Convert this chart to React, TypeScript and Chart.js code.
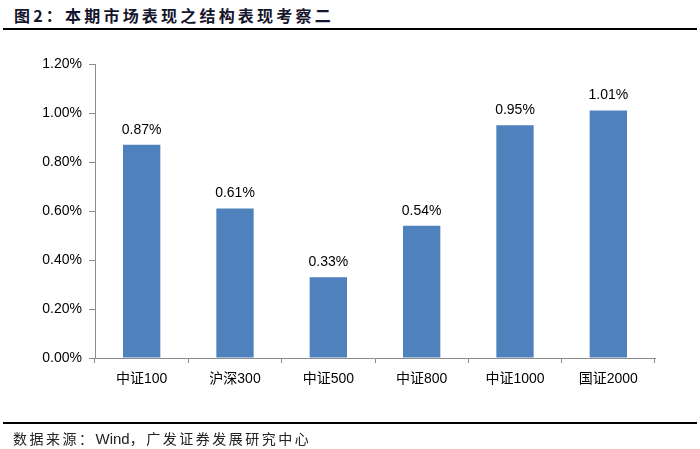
import React, { useEffect, useRef } from "react";
import { Chart, registerables } from "chart.js";

Chart.register(...registerables);

const categories = ["中证100", "沪深300", "中证500", "中证800", "中证1000", "国证2000"];
const values = [0.87, 0.61, 0.33, 0.54, 0.95, 1.01];
const yTicksMin = 0;
const yTicksMax = 1.2;
const yTicksStep = 0.2;
const titleText = "图2：本期市场表现之结构表现考察二";
const sourcePrefix = "数据来源：";
const sourceWind = "Wind";
const sourceSuffix = "，广发证券发展研究中心";

const FONT = "'Liberation Sans', Arial, 'Noto Sans CJK SC', sans-serif";

export default function App() {
  const ref = useRef<HTMLCanvasElement | null>(null);
  useEffect(() => {
    if (!ref.current) return;
    const labelPlugin = {
      id: "barLabels",
      afterDatasetsDraw(chart: any) {
        const ctx = chart.ctx;
        const meta = chart.getDatasetMeta(0);
        ctx.save();
        ctx.font = `14px ${FONT}`;
        ctx.fillStyle = "#000";
        ctx.textAlign = "center";
        ctx.textBaseline = "bottom";
        meta.data.forEach((el: any, i: number) => {
          ctx.fillText(values[i].toFixed(2) + "%", el.x, el.y - 8);
        });
        ctx.restore();
      },
    };
    const chart = new Chart(ref.current, {
      type: "bar",
      data: {
        labels: categories,
        datasets: [
          {
            data: values,
            backgroundColor: "#4F81BD",
            categoryPercentage: 1,
            barPercentage: 0.4,
          },
        ],
      },
      options: {
        animation: false,
        responsive: false,
        devicePixelRatio: 1,
        layout: { padding: { left: 0, right: 45, top: 64, bottom: 0 } },
        plugins: { legend: { display: false }, tooltip: { enabled: false }, title: { display: false } },
        scales: {
          x: {
            afterFit(scale: any) {
              scale.height = 91;
            },
            grid: {
              offset: true,
              drawOnChartArea: false,
              drawTicks: true,
              tickLength: 5,
              color: "#8c8c8c",
            },
            border: { display: true, color: "#8c8c8c" },
            ticks: {
              font: { size: 14, family: FONT },
              color: "#000",
              padding: 8,
            },
          },
          y: {
            min: yTicksMin,
            max: yTicksMax,
            afterFit(scale: any) {
              scale.width = 95;
            },
            grid: {
              drawOnChartArea: false,
              drawTicks: true,
              tickLength: 6,
              color: "#8c8c8c",
            },
            border: { display: true, color: "#8c8c8c" },
            ticks: {
              stepSize: yTicksStep,
              font: { size: 14, family: FONT },
              color: "#000",
              padding: 7,
              callback: (v: any) => Number(v).toFixed(2) + "%",
            },
          },
        },
      },
      plugins: [labelPlugin],
    });
    return () => chart.destroy();
  }, []);

  return (
    <div style={{ position: "fixed", left: 0, top: 0, width: 700, height: 449, background: "#fff", overflow: "hidden" }}>
      <div
        style={{
          position: "absolute",
          left: 14,
          top: 5,
          fontFamily: "'Noto Sans CJK SC', sans-serif",
          fontWeight: 700,
          fontSize: 16,
          letterSpacing: 3.2,
          color: "#15152e",
          whiteSpace: "nowrap",
          lineHeight: "20px",
        }}
      >
        {titleText}
      </div>
      <div style={{ position: "absolute", left: 3, top: 28, width: 694, height: 2, background: "#000" }} />
      <canvas ref={ref} width={700} height={449} style={{ position: "absolute", left: 0, top: 0, width: 700, height: 449 }} />
      <div style={{ position: "absolute", left: 3, top: 422, width: 694, height: 2, background: "#000" }} />
      <div
        style={{
          position: "absolute",
          left: 13,
          top: 429,
          fontFamily: "'Noto Sans CJK SC', sans-serif",
          fontSize: 14,
          color: "#222",
          whiteSpace: "nowrap",
          lineHeight: "18px",
        }}
      >
        <span style={{ letterSpacing: 2.5 }}>{sourcePrefix}</span>
        <span style={{ fontFamily: "'Liberation Sans', Arial, sans-serif", fontSize: 15 }}>{sourceWind}</span>
        <span style={{ letterSpacing: 2.5 }}>{sourceSuffix}</span>
      </div>
    </div>
  );
}
